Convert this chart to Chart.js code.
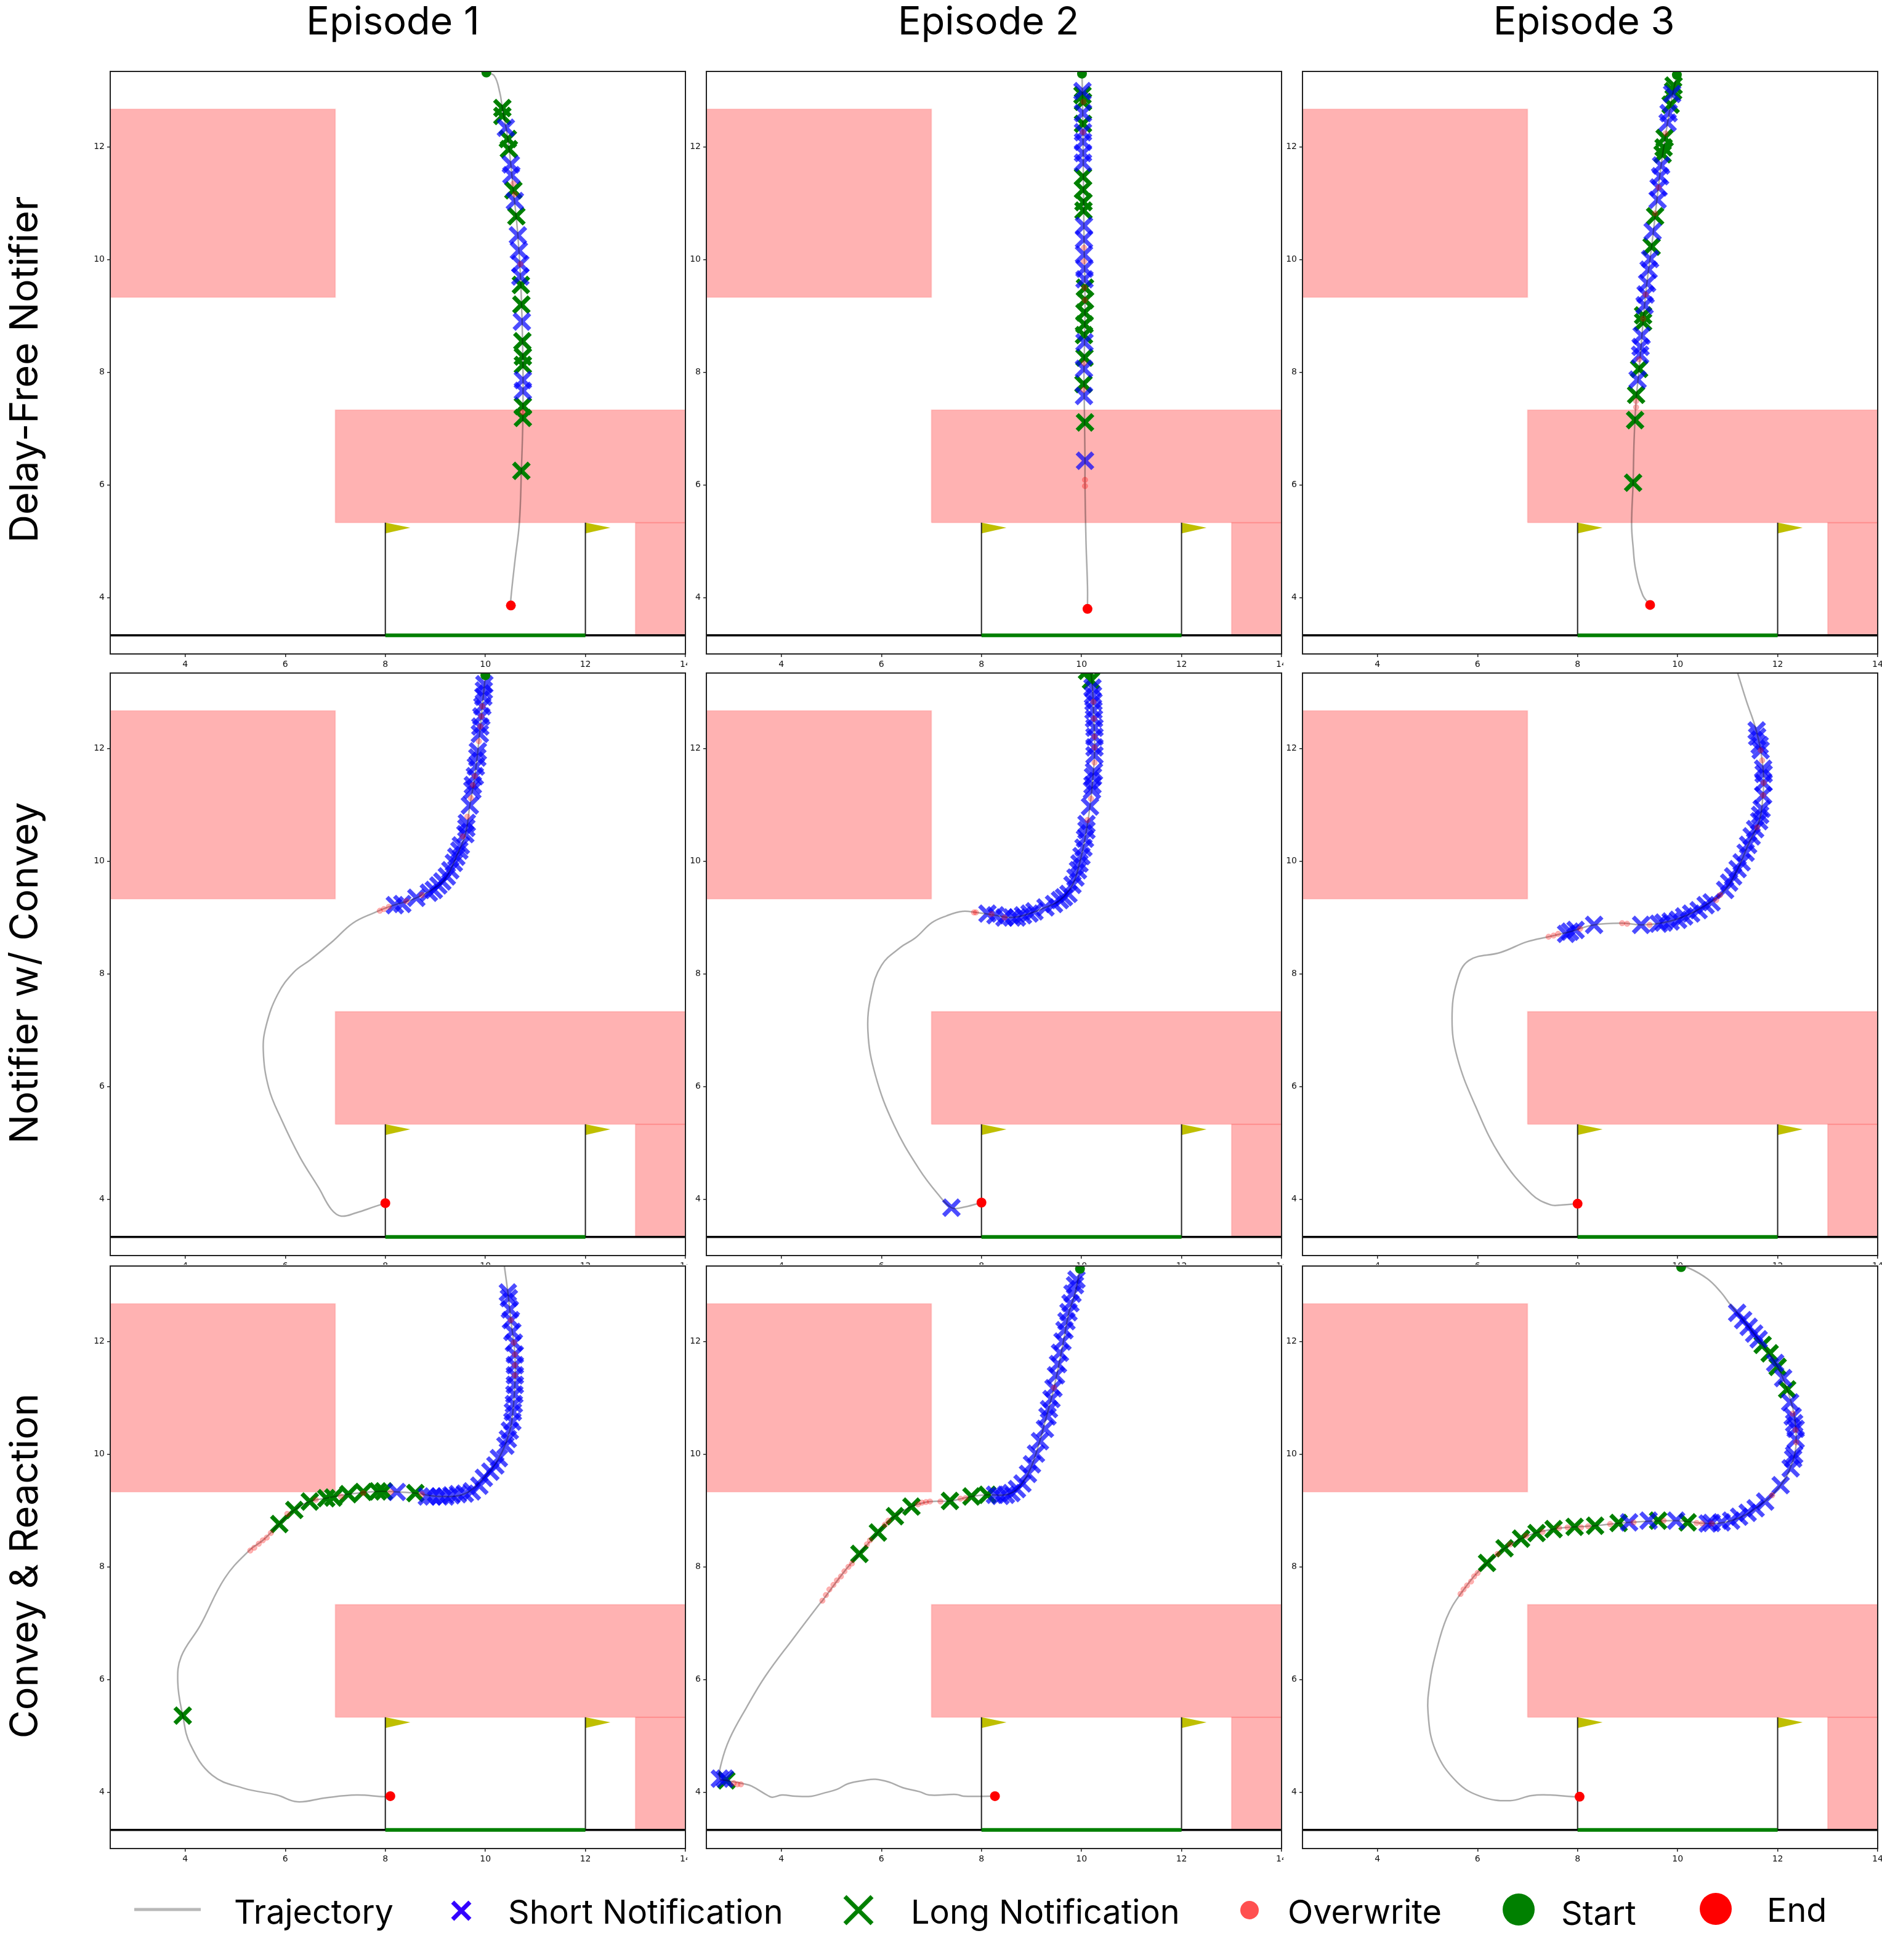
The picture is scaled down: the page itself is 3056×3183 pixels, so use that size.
<!DOCTYPE html>
<html>
<head>
<meta charset="utf-8">
<title>Trajectories</title>
<script src="https://cdn.jsdelivr.net/npm/chart.js@4"></script>
<style>
    html, body { margin: 0; padding: 0; background: #fff; width: 3056px; height: 3183px; overflow: hidden; }
    canvas { position: absolute; background: #fff; }
    .txt { position: absolute; font-family: Inter, sans-serif; color: #000; white-space: nowrap; line-height: 1; }
    .titulo { font-size: 63px; transform: translateX(-50%); top: 2px; }
    .linha { font-size: 63px; transform: translate(-50%, -50%) rotate(-90deg); left: 38px; }
    .leg { font-size: 54px; }
    svg { position: absolute; overflow: visible; }
</style>
</head>
<body>
<div class="txt titulo" style="left:638px">Episode 1</div>
<div class="txt titulo" style="left:1605px">Episode 2</div>
<div class="txt titulo" style="left:2572px">Episode 3</div>
<div class="txt linha" style="top:600px">Delay-Free Notifier</div>
<div class="txt linha" style="top:1580px">Notifier w/ Convey</div>
<div class="txt linha" style="top:2543px">Convey &amp; Reaction</div>

<svg style="left:0;top:0" width="3056" height="3183">
    <line x1="218" x2="326" y1="3101" y2="3101" stroke="#b8b8b8" stroke-width="5"/>
    <path d="M735 3089 L763 3117 M763 3089 L735 3117" stroke="#3300ff" stroke-width="7"/>
    <path d="M1372 3080 L1416 3124 M1416 3080 L1372 3124" stroke="#008000" stroke-width="7"/>
    <circle cx="2029" cy="3102" r="15" fill="#ff5050"/>
    <circle cx="2466" cy="3101" r="26" fill="#008000"/>
    <circle cx="2786" cy="3100" r="26" fill="#ff0000"/>
</svg>
<div class="txt leg" style="left:380px;top:3078px">Trajectory</div>
<div class="txt leg" style="left:825px;top:3078px">Short Notification</div>
<div class="txt leg" style="left:1479px;top:3078px">Long Notification</div>
<div class="txt leg" style="left:2091px;top:3078px">Overwrite</div>
<div class="txt leg" style="left:2535px;top:3080px">Start</div>
<div class="txt leg" style="left:2869px;top:3075px">End</div>

<script>
// ========== ticks ==========
const xTicks = [4, 6, 8, 10, 12, 14];
const yTicks = [4, 6, 8, 10, 12];
const xLimits = [2.5, 14];
const yLimits = [3, 13.34];

// ========== mapa (igual nos 9 paineis) ==========
const obstaculos = [
    [[2.5, 9.33], [7, 9.33], [7, 12.67], [2.5, 12.67], [2.5, 9.33]],
    [[7, 5.33], [14, 5.33], [14, 7.33], [7, 7.33], [7, 5.33]],
    [[13, 3.33], [14, 3.33], [14, 5.33], [13, 5.33], [13, 3.33]]
];
const parede = [[2.5, 3.33], [14, 3.33]];
const gol = [[8, 3.33], [12, 3.33]];
const postes = [[[8, 3.33], [8, 5.33]], [[12, 3.33], [12, 5.33]]];
const bandeiras = [
    [[8, 5.33], [8.5, 5.24], [8, 5.14], [8, 5.33]],
    [[12, 5.33], [12.5, 5.24], [12, 5.14], [12, 5.33]]
];

// ========== Delay-Free Notifier ==========
const df1Trajetoria = [[10.02, 13.32], [10.18, 13.26], [10.29, 12.96], [10.34, 12.69], [10.45, 12.14], [10.56, 11.23], [10.65, 10.43], [10.71, 9.55], [10.75, 8.28], [10.75, 7.19], [10.72, 6.25], [10.68, 5.33], [10.59, 4.64], [10.51, 3.98], [10.51, 3.86]];
const df1Curta = [[10.41, 12.34], [10.51, 11.69], [10.52, 11.5], [10.59, 11.04], [10.65, 10.43], [10.67, 10.16], [10.7, 9.92], [10.7, 9.7], [10.73, 8.9], [10.75, 7.86], [10.75, 7.67]];
const df1Longa = [[10.34, 12.69], [10.34, 12.55], [10.45, 12.14], [10.47, 11.96], [10.56, 11.23], [10.62, 10.77], [10.71, 9.55], [10.72, 9.2], [10.74, 8.55], [10.75, 8.28], [10.75, 8.13], [10.75, 7.4], [10.75, 7.19], [10.72, 6.25]];
const df1Sobrescrita = [[10.56, 11.35], [10.59, 11.16], [10.7, 9.92], [10.74, 7.29]];
const df1Inicio = [[10.02, 13.32]];
const df1Fim = [[10.51, 3.86]];

const df2Trajetoria = [[10.01, 13.3], [10.02, 12.9], [10.03, 12.2], [10.05, 10.4], [10.07, 9.3], [10.06, 8.5], [10.05, 8], [10.06, 7.2], [10.07, 6.4], [10.07, 6], [10.09, 5], [10.12, 4.2], [10.12, 3.8]];
const df2Curta = [[10.02, 12.99], [10.03, 12.6], [10.03, 12.26], [10.03, 12.09], [10.03, 11.89], [10.03, 11.72], [10.05, 10.6], [10.05, 10.36], [10.05, 10.09], [10.06, 9.84], [10.06, 9.65], [10.06, 8.53], [10.05, 8.06], [10.05, 7.58], [10.07, 6.43]];
const df2Longa = [[10.02, 12.92], [10.03, 12.8], [10.03, 12.41], [10.03, 11.47], [10.03, 11.24], [10.04, 11.02], [10.04, 10.87], [10.07, 9.5], [10.07, 9.28], [10.06, 9.06], [10.06, 8.85], [10.05, 8.66], [10.06, 8.26], [10.04, 7.79], [10.07, 7.11]];
const df2Sobrescrita = [[10.04, 12.8], [10.03, 12.26], [10.05, 10.21], [10.05, 9.97], [10.06, 9.5], [10.07, 9.28], [10.05, 8.16], [10.04, 7.69], [10.07, 6.09], [10.07, 5.98]];
const df2Inicio = [[10.01, 13.3]];
const df2Fim = [[10.12, 3.8]];

const df3Trajetoria = [[9.985, 13.28], [9.86, 12.75], [9.67, 11.67], [9.48, 10.23], [9.36, 9.38], [9.23, 8.06], [9.17, 7.5], [9.13, 6.8], [9.11, 6.04], [9.08, 5.3], [9.11, 4.9], [9.16, 4.5], [9.3, 4.05], [9.45, 3.87]];
const df3Curta = [[9.89, 12.94], [9.82, 12.6], [9.8, 12.43], [9.67, 11.67], [9.65, 11.48], [9.62, 11.28], [9.6, 11.06], [9.5, 10.5], [9.45, 10.01], [9.42, 9.82], [9.39, 9.58], [9.36, 9.38], [9.34, 9.19], [9.28, 8.65], [9.26, 8.45], [9.25, 8.31], [9.2, 7.87]];
const df3Longa = [[9.92, 13.09], [9.91, 12.99], [9.86, 12.75], [9.74, 12.16], [9.72, 11.99], [9.7, 11.87], [9.55, 10.77], [9.48, 10.23], [9.31, 9.01], [9.31, 8.89], [9.23, 8.06], [9.17, 7.6], [9.15, 7.15], [9.11, 6.04]];
const df3Sobrescrita = [[9.76, 12.24], [9.62, 11.28], [9.55, 10.82], [9.36, 9.38], [9.31, 8.95], [9.23, 8.23], [9.17, 7.49], [9.17, 7.38]];
const df3Inicio = [[9.985, 13.28]];
const df3Fim = [[9.45, 3.87]];

// ========== Notifier w/ Convey ==========
const nc1Trajetoria = [[10, 13.28], [9.97, 13.03], [9.9, 12.39], [9.79, 11.51], [9.69, 10.99], [9.6, 10.48], [9.42, 10.08], [9.23, 9.73], [9.06, 9.57], [8.62, 9.35], [8.07, 9.19], [7.79, 9.09], [7.35, 8.9], [6.95, 8.58], [6.5, 8.25], [6.17, 8.03], [5.85, 7.64], [5.62, 7.09], [5.56, 6.64], [5.67, 5.97], [5.92, 5.42], [6.29, 4.75], [6.67, 4.2], [6.92, 3.82], [7.12, 3.7], [7.42, 3.76], [7.79, 3.87], [8, 3.93]];
const nc1Curta = [[9.98, 13.14], [9.97, 13.03], [9.96, 12.92], [9.94, 12.75], [9.92, 12.57], [9.9, 12.39], [9.89, 12.26], [9.85, 11.95], [9.84, 11.84], [9.81, 11.68], [9.79, 11.51], [9.75, 11.35], [9.74, 11.26], [9.69, 10.99], [9.63, 10.68], [9.62, 10.59], [9.6, 10.48], [9.51, 10.28], [9.48, 10.19], [9.42, 10.08], [9.37, 9.97], [9.3, 9.84], [9.23, 9.73], [9.14, 9.64], [9.06, 9.57], [8.97, 9.49], [8.87, 9.44], [8.62, 9.35], [8.34, 9.24], [8.19, 9.22]];
const nc1Longa = [];
const nc1Sobrescrita = [[7.89, 9.12], [7.97, 9.15], [8.07, 9.19], [9.87, 12.13], [9.71, 11.12], [9.55, 10.44], [9.64, 10.79], [8.73, 9.4], [8.42, 9.29], [9.94, 12.75], [9.92, 12.57], [9.9, 12.39], [9.79, 11.51], [9.75, 11.35]];
const nc1Inicio = [[10, 13.3]];
const nc1Fim = [[8, 3.93]];

const nc2Trajetoria = [[10.19, 13.34], [10.22, 13.08], [10.24, 12.68], [10.26, 12.21], [10.26, 11.88], [10.23, 11.5], [10.17, 10.97], [10.07, 10.4], [9.96, 9.96], [9.82, 9.58], [9.57, 9.31], [9.28, 9.18], [8.96, 9.07], [8.61, 9], [8.28, 9.04], [7.89, 9.09], [7.62, 9.11], [7.3, 9.03], [7.01, 8.91], [6.68, 8.64], [6.38, 8.47], [6, 8.15], [5.8, 7.65], [5.73, 6.98], [5.88, 6.2], [6.25, 5.32], [6.75, 4.54], [7.13, 4.09], [7.4, 3.85], [7.6, 3.85], [8, 3.94]];
const nc2Curta = [[10.22, 13.08], [10.23, 12.95], [10.24, 12.83], [10.24, 12.68], [10.25, 12.53], [10.26, 12.37], [10.26, 12.21], [10.26, 12.02], [10.26, 11.88], [10.25, 11.59], [10.23, 11.5], [10.22, 11.35], [10.21, 11.26], [10.17, 10.97], [10.1, 10.66], [10.1, 10.55], [10.07, 10.4], [10.04, 10.24], [10, 10.09], [9.96, 9.96], [9.93, 9.84], [9.88, 9.71], [9.82, 9.58], [9.74, 9.42], [9.65, 9.36], [9.57, 9.31], [9.45, 9.24], [9.28, 9.18], [9.06, 9.11], [8.96, 9.07], [8.83, 9.04], [8.71, 9], [8.61, 9], [8.46, 9], [8.28, 9.04], [8.12, 9.07], [7.4, 3.85]];
const nc2Longa = [[10.19, 13.21], [10.11, 13.38]];
const nc2Sobrescrita = [[7.89, 9.09], [7.85, 9.09], [10.26, 11.75], [10.19, 11.11], [10.12, 10.73], [8.46, 9], [8.2, 9.06], [10.26, 12.21], [10.26, 12.02], [10.25, 12.53], [10.24, 12.83]];
const nc2Inicio = [];
const nc2Fim = [[8, 3.94]];

const nc3Trajetoria = [[11.2, 13.34], [11.38, 12.83], [11.55, 12.39], [11.66, 11.97], [11.72, 11.5], [11.7, 11.1], [11.63, 10.71], [11.41, 10.29], [11.2, 9.86], [10.95, 9.49], [10.56, 9.22], [10.13, 9.02], [9.72, 8.91], [9.27, 8.87], [8.89, 8.9], [8.33, 8.87], [7.85, 8.75], [7.42, 8.66], [6.99, 8.57], [6.46, 8.38], [5.83, 8.24], [5.59, 7.87], [5.49, 7.2], [5.59, 6.53], [5.96, 5.65], [6.46, 4.76], [7.08, 4.09], [7.46, 3.9], [7.7, 3.9], [8, 3.92]];
const nc3Curta = [[11.58, 12.32], [11.59, 12.21], [11.64, 12.06], [11.66, 11.97], [11.71, 11.64], [11.72, 11.55], [11.72, 11.39], [11.71, 11.17], [11.68, 10.93], [11.65, 10.82], [11.63, 10.71], [11.55, 10.57], [11.48, 10.44], [11.41, 10.29], [11.36, 10.15], [11.28, 9.98], [11.2, 9.86], [11.11, 9.73], [11.03, 9.62], [10.95, 9.49], [10.68, 9.27], [10.56, 9.22], [10.42, 9.13], [10.27, 9.07], [10.13, 9.02], [10.01, 8.96], [9.86, 8.93], [9.72, 8.91], [9.62, 8.89], [9.27, 8.87], [8.33, 8.87], [7.96, 8.78], [7.85, 8.75], [7.77, 8.71]];
const nc3Longa = [];
const nc3Sobrescrita = [[7.42, 8.66], [7.52, 8.68], [7.61, 8.71], [8.05, 8.8], [8.89, 8.9], [8.99, 8.89], [9.44, 8.87], [11.69, 11.79], [11.71, 11.17], [11.59, 10.6], [10.77, 9.31], [10.85, 9.4], [11.66, 11.97], [11.72, 11.39]];
const nc3Inicio = [];
const nc3Fim = [[8, 3.92]];

// ========== Convey & Reaction ==========
const cr1Trajetoria = [[10.38, 13.34], [10.45, 12.87], [10.51, 12.38], [10.59, 11.77], [10.59, 11.23], [10.55, 10.75], [10.49, 10.42], [10.27, 9.93], [9.97, 9.58], [9.59, 9.3], [9.08, 9.25], [8.6, 9.31], [8.23, 9.33], [7.85, 9.34], [7.26, 9.29], [6.82, 9.22], [6.49, 9.16], [6.18, 9.01], [5.88, 8.76], [5.55, 8.47], [5.29, 8.3], [4.79, 7.8], [4.3, 6.96], [3.92, 6.41], [3.85, 5.96], [3.95, 5.36], [4.1, 4.85], [4.54, 4.3], [5.17, 4.07], [5.83, 3.95], [6.24, 3.83], [6.8, 3.9], [7.42, 3.95], [8, 3.92], [8.1, 3.93]];
const cr1Curta = [[10.45, 12.87], [10.47, 12.77], [10.49, 12.57], [10.51, 12.38], [10.54, 12.17], [10.57, 11.98], [10.59, 11.77], [10.59, 11.58], [10.59, 11.4], [10.59, 11.23], [10.58, 11.06], [10.57, 10.89], [10.55, 10.75], [10.54, 10.58], [10.49, 10.42], [10.45, 10.27], [10.4, 10.15], [10.27, 9.93], [10.2, 9.8], [10.1, 9.69], [9.97, 9.58], [9.88, 9.44], [9.73, 9.34], [9.59, 9.3], [9.45, 9.29], [9.32, 9.27], [9.2, 9.25], [9.08, 9.25], [8.95, 9.25], [8.83, 9.25], [8.23, 9.33]];
const cr1Longa = [[8.6, 9.31], [7.97, 9.34], [7.85, 9.34], [7.56, 9.33], [7.26, 9.29], [6.96, 9.23], [6.82, 9.22], [6.49, 9.16], [6.18, 9.01], [5.88, 8.76], [3.95, 5.36]];
const cr1Sobrescrita = [[5.3, 8.29], [5.38, 8.34], [5.47, 8.41], [5.55, 8.47], [5.63, 8.52], [5.71, 8.6], [8.11, 9.33], [8.73, 9.29], [10.51, 12.38], [10.57, 11.98], [10.59, 11.77], [10.59, 11.58], [10.59, 11.4], [6.04, 8.94], [6.61, 9.19], [7.11, 9.25], [7.56, 9.31]];
const cr1Inicio = [];
const cr1Fim = [[8.1, 3.93]];

const cr2Trajetoria = [[9.97, 13.29], [9.87, 12.85], [9.75, 12.52], [9.63, 11.96], [9.45, 11.18], [9.3, 10.67], [9.09, 10.01], [8.93, 9.65], [8.71, 9.38], [8.49, 9.28], [8.12, 9.28], [7.8, 9.25], [7.37, 9.17], [6.97, 9.16], [6.73, 9.11], [6.6, 9.07], [6.27, 8.9], [5.93, 8.61], [5.56, 8.23], [5.26, 7.92], [4.82, 7.4], [4.77, 7.35], [4.23, 6.72], [3.68, 6.06], [3.3, 5.5], [2.97, 4.96], [2.8, 4.52], [2.77, 4.24], [2.9, 4.21], [3.24, 4.15], [3.4, 4.11], [3.73, 3.94], [3.82, 3.91], [4.01, 3.95], [4.28, 3.93], [4.61, 3.93], [4.83, 3.98], [5.11, 4.05], [5.33, 4.15], [5.66, 4.21], [5.88, 4.23], [6.15, 4.18], [6.43, 4.08], [6.76, 4.01], [6.95, 3.95], [7.5, 3.96], [7.64, 3.93], [8.18, 3.93], [8.27, 3.93]];
const cr2Curta = [[2.77, 4.24], [2.87, 4.24], [8.27, 9.28], [8.38, 9.26], [8.49, 9.28], [8.6, 9.31], [8.71, 9.38], [8.82, 9.48], [8.93, 9.65], [9.01, 9.82], [9.09, 10.01], [9.17, 10.23], [9.27, 10.45], [9.32, 10.67], [9.35, 10.8], [9.4, 10.98], [9.44, 11.17], [9.49, 11.4], [9.53, 11.6], [9.57, 11.8], [9.62, 12], [9.66, 12.2], [9.7, 12.36], [9.74, 12.52], [9.78, 12.68], [9.82, 12.85], [9.87, 13], [9.9, 13.1]];
const cr2Longa = [[5.56, 8.23], [5.93, 8.61], [6.27, 8.9], [6.6, 9.07], [7.37, 9.17], [7.8, 9.25], [8.12, 9.28], [2.9, 4.21]];
const cr2Sobrescrita = [[4.82, 7.4], [4.89, 7.5], [4.96, 7.6], [5.04, 7.68], [5.11, 7.76], [5.19, 7.83], [5.26, 7.92], [5.34, 8], [5.41, 8.06], [5.71, 8.4], [5.77, 8.47], [6.07, 8.75], [6.14, 8.82], [6.73, 9.11], [6.81, 9.14], [6.89, 9.15], [6.97, 9.16], [7.18, 9.16], [7.58, 9.21], [7.68, 9.22], [3.05, 4.16], [3.12, 4.14], [3.19, 4.14], [9.45, 11.18]];
const cr2Inicio = [[9.97, 13.29]];
const cr2Fim = [[8.27, 3.93]];

const cr3Trajetoria = [[10.07, 13.32], [10.21, 13.31], [10.6, 13.11], [10.87, 12.87], [11.04, 12.67], [11.31, 12.38], [11.7, 11.94], [12, 11.55], [12.19, 11.15], [12.33, 10.7], [12.37, 10.21], [12.3, 9.87], [12.06, 9.45], [11.56, 9.04], [11.07, 8.82], [10.6, 8.77], [9.97, 8.82], [9.03, 8.79], [8.35, 8.73], [7.52, 8.67], [6.87, 8.5], [6.19, 8.07], [5.66, 7.52], [5.38, 7.09], [5.16, 6.45], [5.05, 5.97], [5.01, 5.41], [5.16, 4.74], [5.59, 4.18], [6.08, 3.92], [6.65, 3.85], [7.08, 3.94], [7.45, 3.95], [7.9, 3.92], [8.04, 3.92]];
const cr3Curta = [[11.19, 12.51], [11.31, 12.38], [11.42, 12.26], [11.53, 12.14], [11.62, 12.04], [11.95, 11.62], [12.11, 11.35], [12.25, 10.92], [12.3, 10.67], [12.33, 10.55], [12.36, 10.45], [12.36, 10.26], [12.33, 9.99], [12.31, 9.92], [12.26, 9.75], [12.06, 9.45], [11.75, 9.16], [11.56, 9.04], [11.4, 8.96], [11.23, 8.89], [11.07, 8.82], [10.88, 8.79], [10.68, 8.78], [10.6, 8.77], [9.97, 8.82], [9.42, 8.82], [9.03, 8.79]];
const cr3Longa = [[11.7, 11.94], [11.84, 11.79], [12, 11.55], [12.19, 11.15], [10.2, 8.79], [9.61, 8.82], [8.82, 8.78], [8.35, 8.73], [7.94, 8.71], [7.52, 8.67], [7.18, 8.6], [6.87, 8.5], [6.54, 8.33], [6.19, 8.07]];
const cr3Sobrescrita = [[5.66, 7.52], [5.72, 7.6], [5.79, 7.67], [5.87, 7.74], [5.93, 7.83], [6, 7.89], [6.4, 8.23], [6.65, 8.4], [6.97, 8.55], [7.3, 8.62], [7.63, 8.69], [7.8, 8.7], [8.07, 8.7], [8.21, 8.72], [8.65, 8.76], [9.12, 8.79], [9.72, 8.82], [10.38, 8.78], [10.49, 8.77], [10.68, 8.77], [11.89, 9.27], [12.3, 10.72], [12.36, 10.43], [12.37, 10.21]];
const cr3Inicio = [[10.07, 13.32]];
const cr3Fim = [[8.04, 3.92]];

// posicao dos paineis na pagina
const colunas = [179, 1147, 2115];
const linhas = [116, 1093, 2056];
const larguraPlot = 934;
const alturaPlot = 946;
const margemEixoY = 31;

const paineis = [
    [0, 0, df1Trajetoria, df1Curta, df1Longa, df1Sobrescrita, df1Inicio, df1Fim],
    [1, 0, df2Trajetoria, df2Curta, df2Longa, df2Sobrescrita, df2Inicio, df2Fim],
    [2, 0, df3Trajetoria, df3Curta, df3Longa, df3Sobrescrita, df3Inicio, df3Fim],
    [0, 1, nc1Trajetoria, nc1Curta, nc1Longa, nc1Sobrescrita, nc1Inicio, nc1Fim],
    [1, 1, nc2Trajetoria, nc2Curta, nc2Longa, nc2Sobrescrita, nc2Inicio, nc2Fim],
    [2, 1, nc3Trajetoria, nc3Curta, nc3Longa, nc3Sobrescrita, nc3Inicio, nc3Fim],
    [0, 2, cr1Trajetoria, cr1Curta, cr1Longa, cr1Sobrescrita, cr1Inicio, cr1Fim],
    [1, 2, cr2Trajetoria, cr2Curta, cr2Longa, cr2Sobrescrita, cr2Inicio, cr2Fim],
    [2, 2, cr3Trajetoria, cr3Curta, cr3Longa, cr3Sobrescrita, cr3Inicio, cr3Fim]
];

// Moldura do eixo (os 4 lados)
const moldura = {
    id: 'moldura',
    afterDatasetsDraw(chart) {
        const { ctx, chartArea: a } = chart;
        ctx.save();
        ctx.strokeStyle = '#222';
        ctx.lineWidth = 2;
        ctx.strokeRect(a.left, a.top, a.right - a.left, a.bottom - a.top);
        ctx.restore();
    }
};

// Datasets do mapa: obstaculos, parede, postes, bandeiras
function datasetsMapa() {
    const base = { showLine: true, pointRadius: 0, tension: 0, clip: 0 };
    const lista = [];
    obstaculos.forEach(o => lista.push({ ...base, data: o, fill: 'shape', backgroundColor: 'rgba(255, 0, 0, 0.3)', borderColor: 'rgba(255, 0, 0, 0.12)', borderWidth: 2, order: 9 }));
    postes.forEach(p => lista.push({ ...base, data: p, borderColor: '#222', borderWidth: 2, order: 8 }));
    bandeiras.forEach(b => lista.push({ ...base, data: b, fill: 'shape', backgroundColor: '#bfbf00', borderColor: '#bfbf00', borderWidth: 0, order: 8 }));
    lista.push({ ...base, data: parede, borderColor: '#000', borderWidth: 3.5, order: 7 });
    lista.push({ ...base, data: gol, borderColor: '#007f00', borderWidth: 6, order: 6 });
    return lista;
}

function criarPainel([col, lin, trajetoria, curta, longa, sobrescrita, inicio, fim]) {
    const canvas = document.createElement('canvas');
    canvas.width = margemEixoY + larguraPlot + 10;
    canvas.height = 2 + alturaPlot + 30;
    canvas.style.left = (colunas[col] - margemEixoY) + 'px';
    canvas.style.top = (linhas[lin] - 2) + 'px';
    document.body.appendChild(canvas);

    new Chart(canvas.getContext('2d'), {
        type: 'scatter',
        data: {
            datasets: [
                ...datasetsMapa(),
                { data: longa, pointStyle: 'crossRot', pointRadius: 18, pointBorderWidth: 7, pointBorderColor: '#008000', clip: 0, order: 5 },
                { data: curta, pointStyle: 'crossRot', pointRadius: 18, pointBorderWidth: 7, pointBorderColor: 'rgba(0, 0, 255, 0.7)', clip: 0, order: 4 },
                { data: trajetoria, showLine: true, pointRadius: 0, tension: 0.4, borderColor: 'rgba(0, 0, 0, 0.33)', borderWidth: 2.5, clip: 0, order: 3 },
                { data: sobrescrita, pointRadius: 4.5, pointBackgroundColor: 'rgba(255, 0, 0, 0.3)', pointBorderColor: 'rgba(255, 0, 0, 0.2)', pointBorderWidth: 1, clip: 0, order: 2 },
                { data: inicio, pointRadius: 8, pointBackgroundColor: '#008000', pointBorderWidth: 0, clip: 0, order: 1 },
                { data: fim, pointRadius: 8, pointBackgroundColor: '#ff0000', pointBorderWidth: 0, clip: 0, order: 1 }
            ]
        },
        options: {
            responsive: false,
            animation: false,
            layout: { autoPadding: false, padding: { top: 2, right: 10, left: 0, bottom: 0 } },
            plugins: { legend: { display: false }, tooltip: { enabled: false } },
            scales: {
                x: {
                    type: 'linear',
                    min: xLimits[0],
                    max: xLimits[1],
                    afterBuildTicks: s => { s.ticks = xTicks.map(v => ({ value: v })); },
                    afterFit: s => { s.height = 30; s.paddingLeft = 0; s.paddingRight = 0; },
                    border: { display: false },
                    grid: { drawOnChartArea: false, tickLength: 5, tickColor: '#222', lineWidth: 1.5 },
                    ticks: { color: '#111', font: { family: 'DejaVu Sans', size: 14 }, padding: 4, maxRotation: 0, autoSkip: false }
                },
                y: {
                    type: 'linear',
                    min: yLimits[0],
                    max: yLimits[1],
                    afterBuildTicks: s => { s.ticks = yTicks.map(v => ({ value: v })); },
                    afterFit: s => { s.width = margemEixoY; s.paddingTop = 0; s.paddingBottom = 0; },
                    border: { display: false },
                    grid: { drawOnChartArea: false, tickLength: 5, tickColor: '#222', lineWidth: 1.5 },
                    ticks: { color: '#111', font: { family: 'DejaVu Sans', size: 14 }, padding: 4, autoSkip: false }
                }
            }
        },
        plugins: [moldura]
    });
}

paineis.forEach(criarPainel);
</script>
</body>
</html>
